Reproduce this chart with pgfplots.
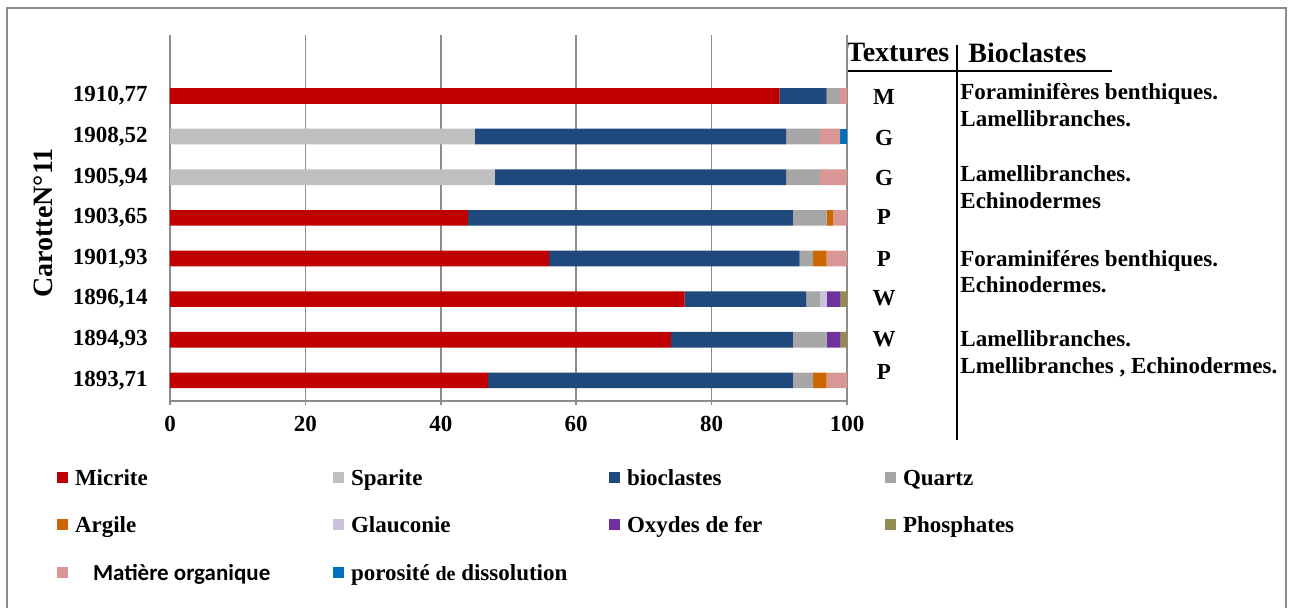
\documentclass[border=0pt]{standalone}
\usepackage{pgfplots}
\pgfplotsset{compat=1.18}
\usepackage{fontspec}
\setmainfont{Liberation Serif}
\newfontfamily\carlito{Carlito}
\definecolor{cMic}{HTML}{C00000}
\definecolor{cSpa}{HTML}{BFBFBF}
\definecolor{cBio}{HTML}{1F497D}
\definecolor{cQua}{HTML}{A6A6A6}
\definecolor{cArg}{HTML}{CC6600}
\definecolor{cGla}{HTML}{CCC1DA}
\definecolor{cOxy}{HTML}{7030A0}
\definecolor{cPho}{HTML}{948A54}
\definecolor{cMat}{HTML}{D99694}
\definecolor{cPor}{HTML}{0070C0}
\definecolor{axgray}{HTML}{8C8C8C}
\newcommand{\fs}{\bfseries\fontsize{11.5}{13}\selectfont}
\begin{document}
\begin{tikzpicture}
\begin{scope}[x=0.5pt,y=-0.5pt]
\useasboundingbox (0,0) rectangle (1294,608);
\draw[axgray, line width=0.8pt] (7,610) -- (7,8) -- (1286,8) -- (1286,610);
% right-hand table
\node[font=\bfseries\fontsize{14}{16}\selectfont, anchor=base, inner sep=0pt] at (898,62) {Textures};
\node[font=\bfseries\fontsize{14}{16}\selectfont, anchor=base west, inner sep=0pt] at (968,63) {Bioclastes};
\draw[black, line width=0.7pt] (957,45) -- (957,440);
\draw[black, line width=0.7pt] (847,71) -- (1112,71);
\foreach \t/\yy in {M/97,G/138,G/178,P/217,P/259,W/298,W/339,P/372}
  \node[font=\fs, anchor=center, inner sep=0pt] at (884,\yy) {\t};
\foreach \t/\yy in {{Foraminifères benthiques.}/93,{Lamellibranches.}/120,{Lamellibranches.}/175,{Echinodermes}/202,{Foraminiféres benthiques.}/260,{Echinodermes.}/286,{Lamellibranches.}/340,{Lmellibranches , Echinodermes.}/367}
  \node[font=\fs, anchor=base west, inner sep=0pt] at (960,\yy+7) {\t};
\end{scope}
\begin{axis}[
  at={(85pt,-200.35pt)}, anchor=south west,
  scale only axis, width=338.5pt, height=182.85pt,
  xbar stacked, bar width=7.85pt,
  xmin=0, xmax=100, ymin=-0.5, ymax=8.5,
  enlargelimits=false,
  axis x line*=bottom, axis y line*=left,
  axis line style={axgray, line width=0.8pt},
  xtick={0,20,...,100},
  ytick={0,...,7},
  yticklabels={{1893,71},{1894,93},{1896,14},{1901,93},{1903,65},{1905,94},{1908,52},{1910,77}},
  ytick style={draw=none},
  extra y ticks={-0.5,0.5,...,8.5},
  extra y tick labels={},
  extra y tick style={major tick length=4pt, tick style={draw=axgray, line width=0.8pt}, grid=none},
  tick align=outside,
  major tick length=2.2pt,
  xtick style={axgray, line width=0.8pt},
  xmajorgrids, grid style={axgray, line width=0.8pt},
  /pgf/number format/assume math mode=true,
  ticklabel style={font=\fs},
  xticklabel style={yshift=-2pt},
  yticklabel style={xshift=-5.5pt},
  ylabel={CarotteN°11},
  ylabel style={at={(axis description cs:-0.1870,0.486)}, anchor=center, font=\bfseries\fontsize{14}{16}\selectfont},
  every axis plot post/.append style={draw=none, legend image code/.code={\fill[##1] (0pt,-1.5pt) rectangle (5.5pt,4pt);}},
  legend columns=4,
  legend style={at={(-0.1669,-0.1868)}, anchor=north west, draw=none, fill=none, inner sep=0pt, outer sep=0pt,
    nodes={inner sep=0pt, text height=8pt, text depth=2.5pt, font=\fs},
    /tikz/every odd column/.append style={column sep=3.5pt},
    row sep=13.3pt},
  legend cell align=left,
]
\addplot[fill=cMic] coordinates {(47,0) (74,1) (76,2) (56,3) (44,4) (0,5) (0,6) (90,7)};
\addlegendentry{\makebox[129pt][l]{Micrite}}
\addplot[fill=cSpa] coordinates {(0,0) (0,1) (0,2) (0,3) (0,4) (48,5) (45,6) (0,7)};
\addlegendentry{\makebox[129pt][l]{Sparite}}
\addplot[fill=cBio] coordinates {(45,0) (18,1) (18,2) (37,3) (48,4) (43,5) (46,6) (7,7)};
\addlegendentry{\makebox[129pt][l]{bioclastes}}
\addplot[fill=cQua] coordinates {(3,0) (5,1) (2,2) (2,3) (5,4) (5,5) (5,6) (2,7)};
\addlegendentry{\makebox[129pt][l]{Quartz}}
\addplot[fill=cArg] coordinates {(2,0) (0,1) (0,2) (2,3) (1,4) (0,5) (0,6) (0,7)};
\addlegendentry{\makebox[129pt][l]{Argile}}
\addplot[fill=cGla] coordinates {(0,0) (0,1) (1,2) (0,3) (0,4) (0,5) (0,6) (0,7)};
\addlegendentry{\makebox[129pt][l]{Glauconie}}
\addplot[fill=cOxy] coordinates {(0,0) (2,1) (2,2) (0,3) (0,4) (0,5) (0,6) (0,7)};
\addlegendentry{\makebox[129pt][l]{Oxydes de fer}}
\addplot[fill=cPho] coordinates {(0,0) (1,1) (1,2) (0,3) (0,4) (0,5) (0,6) (0,7)};
\addlegendentry{\makebox[129pt][l]{Phosphates}}
\addplot[fill=cMat] coordinates {(3,0) (0,1) (0,2) (3,3) (2,4) (4,5) (3,6) (1,7)};
\addlegendentry{\makebox[129pt][l]{\hspace{9pt}{\carlito\bfseries Matière organique}}}
\addplot[fill=cPor] coordinates {(0,0) (0,1) (0,2) (0,3) (0,4) (0,5) (1,6) (0,7)};
\addlegendentry{\makebox[129pt][l]{porosité {\fontsize{10}{12}\selectfont de} dissolution}}
\end{axis}
\end{tikzpicture}
\end{document}
